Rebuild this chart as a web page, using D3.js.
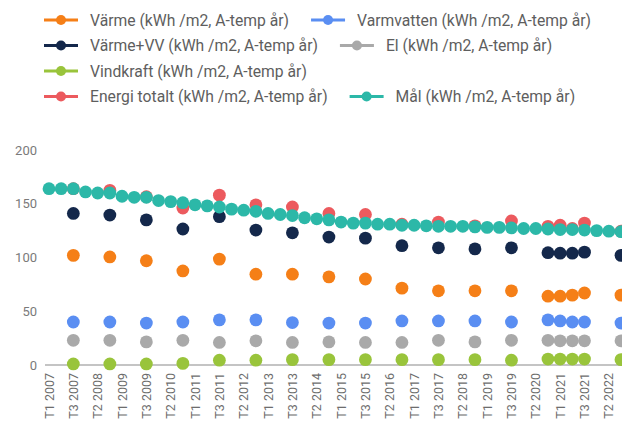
<!DOCTYPE html>
<html>
<head>
<meta charset="utf-8">
<script src="https://cdn.jsdelivr.net/npm/d3@7"></script>
<style>
  html, body { margin: 0; padding: 0; background: #fff; }
  svg { display: block; font-family: Roboto, "Noto Sans", Arial, sans-serif; }
</style>
</head>
<body>
<svg id="chart" width="622" height="430"></svg>
<script>
// Tertial periods on the x axis (T1 2007 ... T3 2022)
const years = d3.range(2007, 2023);
const periods = years.flatMap(y => ["T1 " + y, "T2 " + y, "T3 " + y]);

// Periods with measured energy use
const measuredPeriods = [
  "T3 2007", "T3 2008", "T3 2009", "T3 2010", "T3 2011", "T3 2012",
  "T3 2013", "T3 2014", "T3 2015", "T3 2016", "T3 2017", "T3 2018",
  "T3 2019", "T3 2020", "T1 2021", "T2 2021", "T3 2021", "T3 2022"
];

const varme        = [102, 100.5, 97, 87.5, 98.5, 84.5, 84.5, 82, 80, 71.5, 69, 69, 69, 64, 64, 65, 67, 65];
const varmvatten   = [40, 40, 39, 40, 42, 42, 39.5, 39, 39, 41, 41, 41, 40, 42, 41, 40, 40, 39];
const varmeVV      = [141, 139.5, 135, 126.5, 138, 125.5, 123, 119, 118, 111, 109, 108, 109, 104.5, 104, 104, 105, 102];
const el           = [23, 23, 21.5, 23, 21, 22.5, 21, 21.5, 21, 21, 23, 21.5, 23, 23, 22.5, 22.5, 22.5, 22.5];
const vindkraft    = [1, 1, 1, 1.5, 4.5, 4.5, 5, 5, 5, 5, 5, 5, 4.5, 5.5, 5.5, 5.5, 5.5, 5];
const energiTotalt = [164, 162.5, 156.5, 146, 158, 149, 147, 141, 140, 131, 133, 129.5, 134, 129, 130, 127, 132, 124.5];

// Target value for every tertial
const mal = [
  164, 164, 164, 161, 160, 160, 157, 156, 156, 153, 152, 151,
  149, 148, 147, 145, 144, 143, 141, 140, 139, 137, 136, 135,
  133, 132, 132, 131, 131, 130, 130, 129.5, 129, 129, 129, 128.5,
  128, 128, 127.5, 127, 127, 126.5, 126, 126, 125.5, 125, 124.5, 124
];

const yTicks = [0, 50, 100, 150, 200];
const unit = " (kWh /m2, A-temp år)";

const series = [
  { name: "Värme" + unit,         color: "#f57f17", periods: measuredPeriods, values: varme },
  { name: "Varmvatten" + unit,    color: "#5a8ef2", periods: measuredPeriods, values: varmvatten },
  { name: "Värme+VV" + unit,      color: "#14284b", periods: measuredPeriods, values: varmeVV },
  { name: "El" + unit,            color: "#a9a9a9", periods: measuredPeriods, values: el },
  { name: "Vindkraft" + unit,     color: "#99c43b", periods: measuredPeriods, values: vindkraft },
  { name: "Energi totalt" + unit, color: "#ec5a5e", periods: measuredPeriods, values: energiTotalt },
  { name: "Mål" + unit,           color: "#2cb8a8", periods: periods,         values: mal }
];

const svg = d3.select("#chart");

const x = d3.scalePoint().domain(periods).range([49, 621]);
const y = d3.scaleLinear().domain([0, 200]).range([365, 150]);

// Baseline
svg.append("line")
  .attr("x1", 45).attr("x2", 622)
  .attr("y1", y(0)).attr("y2", y(0))
  .attr("stroke", "#c4c4c4").attr("stroke-width", 2);

// Y axis labels
const yAxis = d3.axisLeft(y).tickValues(yTicks).tickSize(0).tickPadding(0);
const gy = svg.append("g").attr("transform", "translate(37,0)").call(yAxis);
gy.select(".domain").remove();
gy.selectAll("text")
  .attr("font-family", "Roboto, sans-serif")
  .attr("font-size", 13).attr("fill", "#7a7a7a");

// X axis labels, every second tertial, rotated
const xAxis = d3.axisBottom(x)
  .tickValues(periods.filter((p, i) => i % 2 === 0))
  .tickSize(0).tickPadding(0);
const gx = svg.append("g").attr("transform", `translate(0,${y(0)})`).call(xAxis);
gx.select(".domain").remove();
gx.selectAll("text")
  .attr("font-family", "Roboto, sans-serif")
  .attr("font-size", 12.5).attr("fill", "#6d6d6d")
  .attr("text-anchor", "end")
  .attr("dy", null)
  .attr("transform", "translate(4,8) rotate(-90)");

// Points
series.forEach(s => {
  svg.append("g")
    .selectAll("circle")
    .data(s.values.map((v, i) => ({ p: s.periods[i], v })))
    .join("circle")
    .attr("cx", d => x(d.p))
    .attr("cy", d => y(d.v))
    .attr("r", 6.4)
    .attr("fill", s.color);
});

// Legend: items flow left to right, a new row when the next one does not fit
const legend = svg.append("g");
const rowH = 25.5, startX = 44, maxX = 600, firstRowY = 20;
const markLen = 34, textGap = 12, itemGap = 22;
let cx = startX, cy = firstRowY;
series.forEach(s => {
  const g = legend.append("g");
  g.append("line").attr("x1", 0).attr("x2", markLen).attr("y1", 0).attr("y2", 0)
    .attr("stroke", s.color).attr("stroke-width", 3);
  g.append("circle").attr("cx", markLen / 2).attr("cy", 0).attr("r", 5).attr("fill", s.color);
  const t = g.append("text").attr("x", markLen + textGap).attr("y", 0).attr("dy", "0.35em")
    .attr("font-size", 15.7).attr("fill", "#5e5e5e").text(s.name);
  const w = markLen + textGap + t.node().getComputedTextLength();
  if (cx > startX && cx + w > maxX) { cx = startX; cy += rowH; }
  g.attr("transform", `translate(${cx},${cy})`);
  cx += w + itemGap;
});
</script>
</body>
</html>
